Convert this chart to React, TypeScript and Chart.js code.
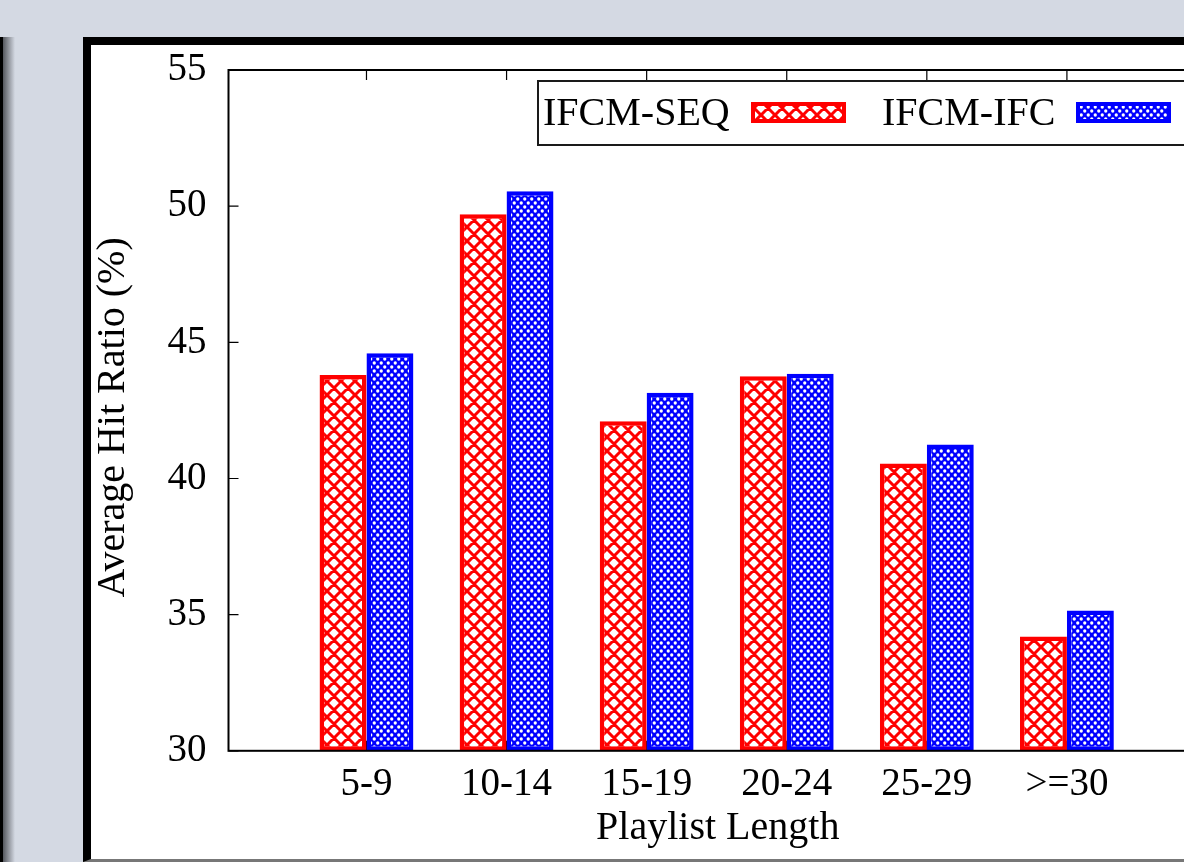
import React, { useEffect, useRef } from 'react';
import { Chart, registerables } from 'chart.js';

Chart.register(...registerables);

// Hit ratio per playlist-length bucket
const categories = ['5-9', '10-14', '15-19', '20-24', '25-29', '>=30'];
const seqValues = [43.8, 49.7, 42.1, 43.75, 40.55, 34.2];
const ifcValues = [44.6, 50.55, 43.15, 43.85, 41.25, 35.15];
const yTicks = [30, 35, 40, 45, 50, 55];
const seriesNames = ['IFCM-SEQ', 'IFCM-IFC'];
const seriesColors = ['#ff0000', '#0000ff'];

const SERIF = '"Liberation Serif", "Times New Roman", serif';
const PAGE_BG = '#d4d9e3';
const CANVAS_W = 1200;
const CANVAS_H = 813;

// Diagonal cross-hatch (diamond lattice) in the series colour on white
function makeCrossHatch(color: string): CanvasPattern {
  const s = 14;
  const c = document.createElement('canvas');
  c.width = s;
  c.height = s;
  const g = c.getContext('2d')!;
  g.fillStyle = '#ffffff';
  g.fillRect(0, 0, s, s);
  g.strokeStyle = color;
  g.lineWidth = 3;
  g.beginPath();
  for (let k = -1; k <= 1; k++) {
    g.moveTo(k * s - 2, -2);
    g.lineTo(k * s + s + 2, s + 2);
    g.moveTo(k * s + s + 2, -2);
    g.lineTo(k * s - 2, s + 2);
  }
  g.stroke();
  return g.createPattern(c, 'repeat')!;
}

// Dense white dots on the series colour
function makeDots(color: string): CanvasPattern {
  const w = 7;
  const h = 8;
  const c = document.createElement('canvas');
  c.width = w;
  c.height = h;
  const g = c.getContext('2d')!;
  g.fillStyle = color;
  g.fillRect(0, 0, w, h);
  g.fillStyle = '#ffffff';
  const dots = [
    [1.75, 2],
    [5.25, 6],
  ];
  for (const [x, y] of dots) {
    g.beginPath();
    g.arc(x, y, 1.65, 0, Math.PI * 2);
    g.fill();
  }
  return g.createPattern(c, 'repeat')!;
}

export default function App() {
  const canvasRef = useRef<HTMLCanvasElement>(null);

  useEffect(() => {
    document.body.style.margin = '0';
    document.body.style.overflow = 'hidden';
    document.body.style.background = PAGE_BG;

    const canvas = canvasRef.current;
    if (!canvas) return;

    const fills = [makeCrossHatch(seriesColors[0]), makeDots(seriesColors[1])];
    const seriesValues = [seqValues, ifcValues];

    const gnuplotFrame = {
      id: 'gnuplotFrame',
      beforeDatasetsDraw(chart: any) {
        const { ctx, chartArea: a, scales } = chart;
        ctx.save();
        ctx.strokeStyle = '#000';
        ctx.lineWidth = 1.2;
        ctx.beginPath();
        categories.forEach((_, i) => {
          const x = scales.x.getPixelForValue(i);
          ctx.moveTo(x, a.bottom);
          ctx.lineTo(x, a.bottom - 10);
        });
        ctx.stroke();
        ctx.restore();
      },
      afterDatasetsDraw(chart: any) {
        const { ctx, chartArea: a, scales } = chart;
        ctx.save();
        // inward tick marks
        ctx.strokeStyle = '#000';
        ctx.lineWidth = 1.2;
        ctx.beginPath();
        yTicks.forEach((v) => {
          const y = scales.y.getPixelForValue(v);
          ctx.moveTo(a.left, y);
          ctx.lineTo(a.left + 10, y);
        });
        categories.forEach((_, i) => {
          const x = scales.x.getPixelForValue(i);
          ctx.moveTo(x, a.top);
          ctx.lineTo(x, a.top + 10);
        });
        ctx.stroke();

        // plot border
        ctx.lineWidth = 2;
        ctx.strokeRect(a.left, a.top, a.right - a.left, a.bottom - a.top);

        // y axis title
        ctx.fillStyle = '#000';
        ctx.font = `40px ${SERIF}`;
        ctx.textAlign = 'center';
        ctx.textBaseline = 'middle';
        ctx.save();
        ctx.translate(24, (a.top + a.bottom) / 2 + 7);
        ctx.rotate(-Math.PI / 2);
        ctx.fillText('Average Hit Ratio (%)', 0, 0);
        ctx.restore();

        // key box
        ctx.strokeStyle = '#1a1a1a';
        ctx.lineWidth = 2;
        ctx.strokeRect(449, 36, 800, 64);

        const entries = [
          { textX: 454, swX: 662 },
          { textX: 793, swX: 987 },
        ];
        ctx.textAlign = 'left';
        ctx.textBaseline = 'alphabetic';
        entries.forEach((e, i) => {
          ctx.fillStyle = '#000';
          ctx.fillText(seriesNames[i], e.textX, 80);
          const sw = 95;
          const sh = 21;
          const sy = 57;
          ctx.fillStyle = seriesColors[i];
          ctx.fillRect(e.swX, sy, sw, sh);
          ctx.fillStyle = fills[i];
          ctx.fillRect(e.swX + 4, sy + 4, sw - 8, sh - 8);
        });
        ctx.restore();
      },
    };

    const chart = new Chart(canvas, {
      type: 'bar',
      data: {
        datasets: seriesNames.map((name, i) => ({
          label: name,
          data: seriesValues[i].map((v, k) => ({ x: k, y: v })),
          backgroundColor: fills[i],
          borderColor: seriesColors[i],
          borderWidth: 4.5,
          borderSkipped: false,
          base: yTicks[0],
          categoryPercentage: 0.67,
          barPercentage: 1,
        })),
      },
      options: {
        animation: false,
        responsive: false,
        devicePixelRatio: 1,
        layout: { padding: { top: 25, right: 82, left: 0, bottom: 0 } },
        plugins: {
          legend: { display: false },
          tooltip: { enabled: false },
        },
        scales: {
          x: {
            type: 'linear',
            offset: false,
            min: -0.985,
            max: 6,
            afterBuildTicks: (s: any) => {
              s.ticks = categories.map((_, i) => ({ value: i }));
            },
            afterFit: (s: any) => {
              s.height = 107.2;
              s.paddingLeft = 0;
              s.paddingRight = 0;
              s.paddingTop = 0;
              s.paddingBottom = 0;
            },
            grid: { display: false, drawTicks: false, offset: false },
            border: { display: false },
            ticks: {
              autoSkip: false,
              maxRotation: 0,
              padding: 11,
              color: '#000',
              font: { family: SERIF, size: 39 },
              callback: (_v: any, i: number) => categories[i],
            },
            title: {
              display: true,
              text: 'Playlist Length',
              color: '#000',
              font: { family: SERIF, size: 40 },
              padding: { top: 0, bottom: 5.5 },
            },
          },
          y: {
            min: yTicks[0],
            max: yTicks[yTicks.length - 1],
            afterBuildTicks: (s: any) => {
              s.ticks = yTicks.map((v) => ({ value: v }));
            },
            afterFit: (s: any) => {
              s.width = 139.5;
              s.paddingLeft = 0;
              s.paddingRight = 0;
              s.paddingTop = 0;
              s.paddingBottom = 0;
            },
            grid: { display: false, drawTicks: false },
            border: { display: false },
            ticks: {
              padding: 22,
              color: '#000',
              font: { family: SERIF, size: 39 },
            },
          },
        },
      },
      plugins: [gnuplotFrame],
    });

    return () => chart.destroy();
  }, []);

  return (
    <div
      style={{
        position: 'relative',
        width: 1184,
        height: 862,
        overflow: 'hidden',
        background: PAGE_BG,
      }}
    >
      <div style={{ position: 'absolute', left: 0, top: 37, width: 3, height: 830, background: '#000' }} />
      <div
        style={{
          position: 'absolute',
          left: 3,
          top: 37,
          width: 12,
          height: 830,
          background: 'linear-gradient(to right, #55585e, rgba(212,217,227,0))',
        }}
      />
      <div
        style={{
          position: 'absolute',
          left: 83,
          top: 37,
          width: 1200,
          height: 825,
          boxSizing: 'border-box',
          borderLeft: '8px solid #000',
          borderTop: '8px solid #000',
          borderBottom: '3px solid #777',
          background: '#fff',
        }}
      />
      <canvas
        ref={canvasRef}
        width={CANVAS_W}
        height={CANVAS_H}
        style={{ position: 'absolute', left: 89, top: 45, width: CANVAS_W, height: CANVAS_H }}
      />
    </div>
  );
}
